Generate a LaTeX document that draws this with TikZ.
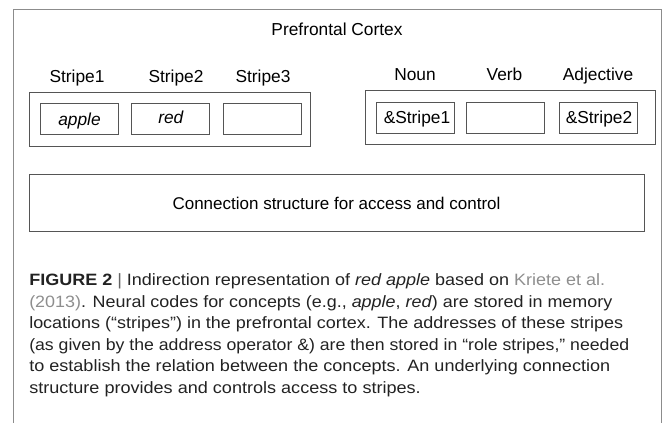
\documentclass[tikz,border=0pt]{standalone}
\usepackage{fontspec}
\usepackage{graphicx}
\setmainfont{Liberation Sans}
\definecolor{framegray}{HTML}{8C8C8C}
\definecolor{boxgray}{HTML}{555555}
\definecolor{linkgray}{HTML}{8E8E8E}
\definecolor{captext}{HTML}{222222}
% set a caption line and stretch it horizontally to a given width (in px units)
\newsavebox\capbox
\newcommand\capfit[2]{%
  \sbox\capbox{#2}%
  \pgfmathsetmacro\capsx{#1*0.75/(\wd\capbox)}%
  \xdef\lastcapsx{\capsx}%
  \scalebox{\capsx}[1]{\usebox\capbox}}
\newcommand\capkeep[1]{\scalebox{\lastcapsx}[1]{#1}}
\begin{document}
\begin{tikzpicture}[x=0.75pt,y=-0.75pt,
  lbl/.style={inner sep=0pt,anchor=base,font=\fontsize{13pt}{15pt}\selectfont},
  grp/.style={draw=boxgray,line width=0.6pt,inner sep=0pt},
  cell/.style={draw=boxgray,line width=0.6pt,inner sep=0pt,
    minimum width=58.5pt,minimum height=23.25pt},
  capline/.style={anchor=base west,inner sep=0pt,text=captext,
    font=\fontsize{12.3pt}{15pt}\selectfont}]
\useasboundingbox (0,0) rectangle (665,423);

% outer frame, open at the bottom
\draw[framegray,line width=0.6pt] (13,423) -- (13,9) -- (661,9) -- (661,423);

\node[lbl] (pfc) at (337,35.7) {Prefrontal Cortex};

% concept stripes
\node[grp,minimum width=210.75pt,minimum height=40.5pt] (lgrp) at (169.5,119) {};
\node[cell] (s1) at (79.5,118.5) {};
\node[cell] (s2) at (170,118.5) {};
\node[cell] (s3) at (262.5,118.5) {};
\node[lbl] (s1t) at (79.5,125.5) {\itshape apple};
\node[lbl] (s2t) at (170.8,124) {\itshape red};
\node[lbl] (l1) at (77,83) {Stripe1};
\node[lbl] (l2) at (176,83) {Stripe2};
\node[lbl] (l3) at (263,83) {Stripe3};

% role stripes
\node[grp,minimum width=217.5pt,minimum height=40.5pt] (rgrp) at (510,117) {};
\node[cell] (r1) at (415,117.5) {};
\node[cell] (r2) at (505,117.5) {};
\node[cell] (r3) at (598,117.5) {};
\node[lbl] (r1t) at (417,124) {\&Stripe1};
\node[lbl] (r3t) at (599,124) {\&Stripe2};
\node[lbl] (n1) at (415,81) {Noun};
\node[lbl] (n2) at (504.5,81) {Verb};
\node[lbl] (n3) at (598,81) {Adjective};

% connection structure
\node[grp,minimum width=461.25pt,minimum height=42.75pt] (conn) at (336.5,202.5) {};
\node[lbl,font=\fontsize{12.75pt}{15pt}\selectfont] (connt) at (336.5,210) {Connection structure for access and control};

% caption
\node[capline] (c1) at (29,286) {\capfit{576}{\textbf{FIGURE 2} {\color{captext!70}|} Indirection representation of \textit{red apple} based on {\color{linkgray}Kriete et al.}}};
\node[capline] (c2) at (29,307.5) {\capfit{583}{{\color{linkgray}(2013)}. Neural codes for concepts (e.g., \textit{apple}, \textit{red}) are stored in memory}};
\node[capline] (c3) at (29,329) {\capfit{594}{locations (“stripes”) in the prefrontal cortex. The addresses of these stripes}};
\node[capline] (c4) at (29,350.5) {\capfit{600}{(as given by the address operator \&) are then stored in “role stripes,” needed}};
\node[capline] (c5) at (29,372) {\capfit{581}{to establish the relation between the concepts. An underlying connection}};
\node[capline] (c6) at (29,393.5) {\capkeep{structure provides and controls access to stripes.}};
\end{tikzpicture}
\end{document}
